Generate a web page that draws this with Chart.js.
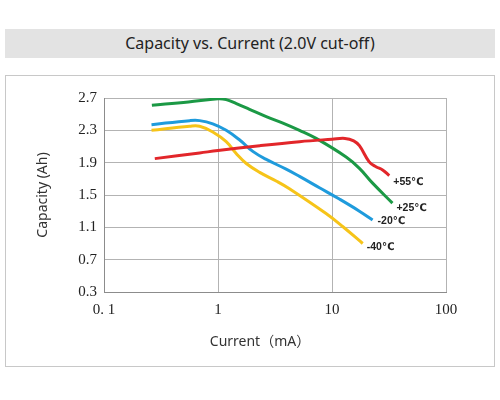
<!DOCTYPE html>
<html>
<head>
<meta charset="utf-8">
<script src="https://cdn.jsdelivr.net/npm/chart.js@4.4.1/dist/chart.umd.min.js"></script>
<style>
  html, body { margin: 0; padding: 0; background: #ffffff; }
  body { width: 500px; height: 400px; position: relative; overflow: hidden; }
  #band { position: absolute; left: 5px; top: 29px; width: 490px; height: 29px; background: #e3e3e3;
          font-family: "Noto Sans", sans-serif; font-size: 16px; color: #222; text-align: center; line-height: 29px; }
  #frame { position: absolute; left: 5px; top: 75px; width: 488px; height: 290px; border: 1px solid #c8c8c8; }
  #wrap { position: absolute; left: 0; top: 0; width: 500px; height: 400px; }
</style>
</head>
<body>
<div id="band">Capacity vs. Current (2.0V cut-off)</div>
<div id="frame"></div>
<div id="wrap"><canvas id="c" width="500" height="400"></canvas></div>
<script>
// ---- data ----
const seriesNames = ["+55\u2103", "+25\u2103", "-20\u2103", "-40\u2103"];
const red55X = [0.279, 0.69, 1.0, 2.32, 5.19, 10.0, 13.0, 15.5, 17.4, 21.2, 24.3, 27.8, 31.8];
const red55Y = [1.95, 2.02, 2.05, 2.11, 2.16, 2.19, 2.20, 2.17, 2.11, 1.91, 1.85, 1.81, 1.74];
const green25X = [0.263, 0.55, 1.0, 1.18, 1.45, 1.89, 2.65, 3.71, 5.19, 7.26, 13.3, 17.4, 22.6, 33.9];
const green25Y = [2.61, 2.65, 2.69, 2.68, 2.63, 2.56, 2.47, 2.39, 2.30, 2.20, 1.97, 1.83, 1.65, 1.40];
const blue20X = [0.261, 0.565, 0.69, 0.90, 1.18, 1.55, 2.02, 2.65, 3.96, 5.19, 7.76, 11.6, 17.4, 22.7];
const blue20Y = [2.37, 2.42, 2.42, 2.38, 2.30, 2.18, 2.04, 1.94, 1.82, 1.73, 1.59, 1.45, 1.30, 1.19];
const yellow40X = [0.261, 0.565, 0.69, 0.90, 1.18, 1.45, 1.77, 2.32, 3.27, 4.2, 8.87, 12.4, 18.6];
const yellow40Y = [2.30, 2.35, 2.35, 2.28, 2.16, 2.01, 1.89, 1.78, 1.67, 1.58, 1.27, 1.11, 0.90];
const xTickValues = [0.1, 1, 10, 100];
const xTickLabels = ["0. 1", "1", "10", "100"];
const yTickValues = [0.3, 0.7, 1.1, 1.5, 1.9, 2.3, 2.7];
const yTickLabels = ["0.3", "0.7", "1.1", "1.5", "1.9", "2.3", "2.7"];

// ---- styles ----
const seriesColors = ["#e2262a", "#1b9945", "#1f9bdc", "#f6c419"];
const labelOffsets = [[4, 7], [4, 5], [5, 1], [4, 4]];

function pts(xs, ys) { return xs.map((x, i) => ({ x: x, y: ys[i] })); }
const seriesData = [pts(red55X, red55Y), pts(green25X, green25Y), pts(blue20X, blue20Y), pts(yellow40X, yellow40Y)];

const labelsPlugin = {
  id: 'seriesLabels',
  afterDatasetsDraw(chart) {
    const ctx = chart.ctx;
    ctx.save();
    ctx.font = 'bold 10.5px "Liberation Sans", "DejaVu Sans", sans-serif';
    ctx.fillStyle = '#222';
    ctx.textBaseline = 'middle';
    ctx.textAlign = 'left';
    chart.data.datasets.forEach((ds, i) => {
      const meta = chart.getDatasetMeta(i);
      const pt = meta.data[meta.data.length - 1];
      ctx.fillText(ds.label, pt.x + labelOffsets[i][0], pt.y + labelOffsets[i][1]);
    });
    // x-axis title
    const a = chart.chartArea;
    ctx.font = '14px "Noto Sans", "Noto Sans CJK SC", sans-serif';
    ctx.fillStyle = '#333';
    ctx.textAlign = 'center';
    ctx.fillText("Current\uFF08mA\uFF09", (a.left + a.right) / 2 - 15, a.bottom + 50);
    ctx.restore();
  }
};

new Chart(document.getElementById('c'), {
  type: 'line',
  data: {
    datasets: seriesData.map((d, i) => ({
      label: seriesNames[i],
      data: d,
      borderColor: seriesColors[i],
      backgroundColor: seriesColors[i],
      borderWidth: 3,
      pointRadius: 0,
      fill: false,
      tension: 0.4,
      borderCapStyle: 'butt',
      borderJoinStyle: 'round'
    }))
  },
  options: {
    responsive: false,
    animation: false,
    devicePixelRatio: 1,
    layout: { padding: { left: 0, right: 54, top: 98, bottom: 48 } },
    plugins: { legend: { display: false }, tooltip: { enabled: false }, title: { display: false } },
    scales: {
      x: {
        type: 'logarithmic',
        min: 0.1, max: 100,
        afterBuildTicks: s => { s.ticks = xTickValues.map(v => ({ value: v })); },
        afterFit: s => { s.height = 60; },
        ticks: {
          autoSkip: false, maxRotation: 0, padding: 9,
          callback: (v, i) => xTickLabels[i],
          font: { family: '"Liberation Serif", serif', size: 15 },
          color: '#222'
        },
        grid: { color: '#b3b3b3', lineWidth: 1, drawTicks: false },
        border: { color: '#8c8c8c', width: 1 }
      },
      y: {
        type: 'linear',
        min: 0.3, max: 2.7,
        afterBuildTicks: s => { s.ticks = yTickValues.map(v => ({ value: v })); },
        afterFit: s => { s.width = 104; },
        ticks: {
          padding: 7,
          callback: (v, i) => yTickLabels[i],
          font: { family: '"Liberation Serif", serif', size: 15 },
          color: '#222'
        },
        grid: { color: '#b3b3b3', lineWidth: 1, drawTicks: false },
        border: { color: '#8c8c8c', width: 1 },
        title: {
          display: true,
          text: 'Capacity (Ah)',
          font: { family: '"Noto Sans", sans-serif', size: 14 },
          color: '#333',
          padding: { top: 34.6, bottom: 0 }
        }
      }
    }
  },
  plugins: [labelsPlugin]
});
</script>
</body>
</html>
